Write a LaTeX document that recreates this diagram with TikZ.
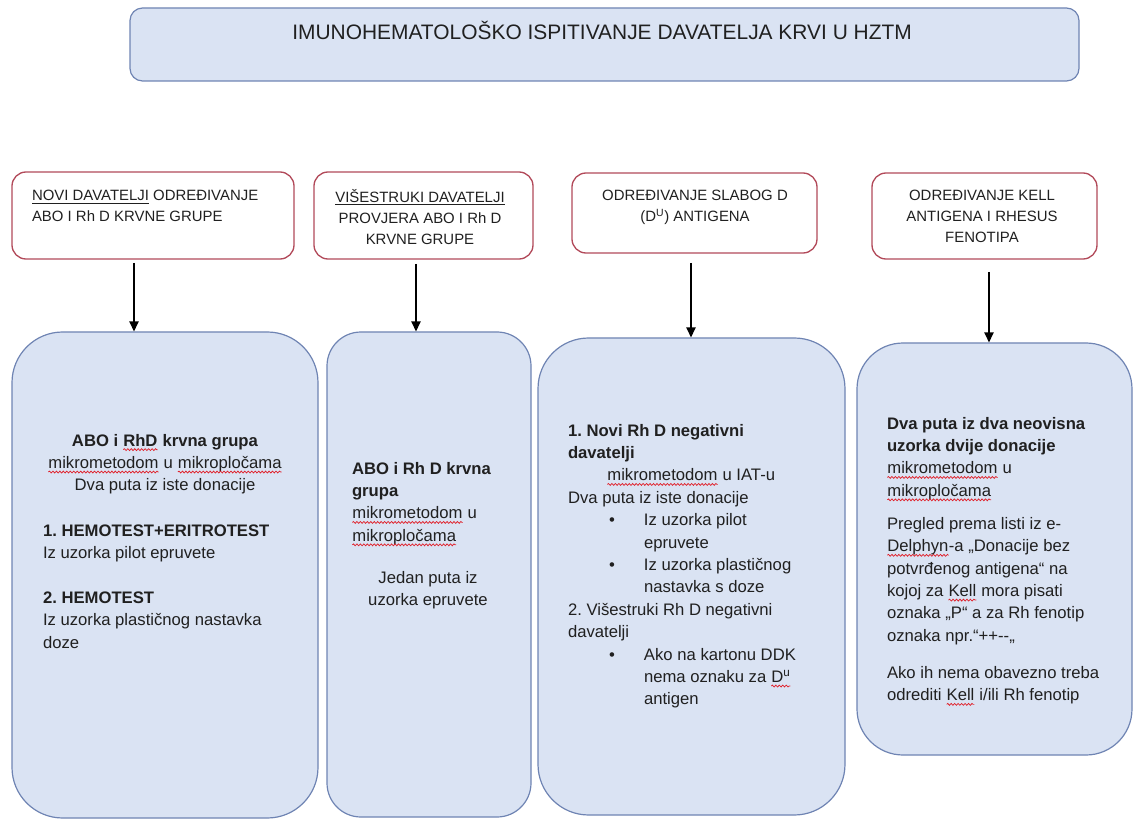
\documentclass[tikz,border=0pt]{standalone}
\usepackage{fontspec}
\setmainfont{Liberation Sans}
\usetikzlibrary{arrows.meta,fit,decorations.pathmorphing}
\definecolor{bfill}{HTML}{DAE3F3}
\definecolor{bline}{HTML}{6F84B3}
\definecolor{rline}{HTML}{B24A5A}
\definecolor{txt}{HTML}{202020}
\definecolor{sqred}{HTML}{E0202A}
\frenchspacing
\newcommand\redwave[1]{\tikz[baseline=(wv.base)]{\node[inner sep=0pt, outer sep=0pt, anchor=base] (wv) {#1};
  \draw[sqred, line width=0.55pt, decorate, decoration={snake, amplitude=0.7pt, segment length=2.6pt}] ([yshift=-2.7pt]wv.base west) -- ([yshift=-2.7pt]wv.base east);}}
\newcommand\myTstrut{\rule{0pt}{9pt}}
\newcommand\myBstrut{\rule{0pt}{10pt}}
\begin{document}
\begin{tikzpicture}[x=0.75pt,y=-0.75pt,
  tbox/.style={draw=rline, line width=1pt, fill=white, rounded corners=10.5pt, inner sep=0pt},
  bbox/.style={draw=bline, line width=0.9pt, fill=bfill, inner sep=0pt},
  ttxt/.style={font=\fontsize{11.2}{15.75}\selectfont, text=txt, inner sep=0pt, outer sep=0pt},
  btxt/.style={font=\fontsize{12.5}{16.8}\selectfont, text=txt, inner sep=0pt, outer sep=0pt},
  arr/.style={-{Triangle[length=7.5pt,width=7pt]}, line width=1pt, draw=black}]
\useasboundingbox (0,0) rectangle (1133,820);

% title
\node[bbox, rounded corners=9.4pt, fit={(130,8) (1079,81)}] (title) {};
\node[font=\fontsize{15.7}{19}\selectfont, text=txt, inner sep=0pt, anchor=base west] (titletext) at (292,40) {IMUNOHEMATOLOŠKO ISPITIVANJE DAVATELJA KRVI U HZTM};

% top boxes
\node[tbox, fit={(12,172) (294,259)}] (t1) {};
\node[tbox, fit={(314,172) (533,259)}] (t2) {};
\node[tbox, fit={(572,173) (817,253)}] (t3) {};
\node[tbox, fit={(872,173) (1097,259)}] (t4) {};

\node[ttxt, align=left, anchor=north west] (t1txt) at (32,189) {\myTstrut\underline{NOVI DAVATELJI} ODREĐIVANJE\\ ABO I Rh D KRVNE GRUPE};
\node[ttxt, align=center, anchor=north] (t2txt) at (420,189) {\myTstrut\underline{VIŠESTRUKI DAVATELJI}\\ PROVJERA ABO I Rh D\\ KRVNE GRUPE};
\node[ttxt, align=center, anchor=north] (t3txt) at (695,189) {\myTstrut ODREĐIVANJE SLABOG D\\ (D\textsuperscript{U}) ANTIGENA};
\node[ttxt, align=center, anchor=north] (t4txt) at (982,189) {\myTstrut ODREĐIVANJE KELL\\ ANTIGENA I RHESUS\\ FENOTIPA};

% bottom boxes
\node[bbox, rounded corners=38pt, fit={(12,332) (318,818)}] (b1) {};
\node[bbox, rounded corners=25.5pt, fit={(327,332) (531,817)}] (b2) {};
\node[bbox, rounded corners=38pt, fit={(538,338) (845,815)}] (b3) {};
\node[bbox, rounded corners=34.5pt, fit={(857,343) (1132,755)}] (b4) {};

% arrows
\coordinate (s1) at (134,263);
\coordinate (s2) at (416,264);
\coordinate (s3) at (691,263);
\coordinate (s4) at (989,272);
\draw[arr] (s1) -- (s1 |- b1.north);
\draw[arr] (s2) -- (s2 |- b2.north);
\draw[arr] (s3) -- (s3 |- b3.north);
\draw[arr] (s4) -- (s4 |- b4.north);

% box 1 text
\node[btxt, align=center, anchor=north] (b1a) at (165,432.7) {\myBstrut\textbf{ABO i \redwave{RhD} krvna grupa}\\ \redwave{mikrometodom} u \redwave{mikropločama}\\ Dva puta iz iste donacije};
\node[btxt, align=left, anchor=north west] (b1b) at (43,522.7) {\myBstrut\textbf{1. HEMOTEST+ERITROTEST}\\ Iz uzorka pilot epruvete\\[17pt] \textbf{2. HEMOTEST}\\ Iz uzorka plastičnog nastavka\\ doze};

% box 2 text
\node[btxt, align=left, anchor=north west] (b2a) at (352,460.7) {\myBstrut\textbf{ABO i Rh D krvna}\\ \textbf{grupa}\\ \redwave{mikrometodom} u\\ \redwave{mikropločama}};
\node[btxt, align=center, anchor=north] (b2b) at (428,569.7) {\myBstrut Jedan puta iz\\ uzorka epruvete};

% box 3 text
\node[btxt, align=left, anchor=north west] (b3a) at (568,422.7) {\myBstrut\textbf{1. Novi Rh D negativni}\\
\textbf{davatelji}\\
\hspace*{29.25pt}\redwave{mikrometodom} u IAT-u\\
Dva puta iz iste donacije\\
\hspace*{30.75pt}\makebox[26.25pt][l]{\textbullet}Iz uzorka pilot\\
\hspace*{57pt}epruvete\\
\hspace*{30.75pt}\makebox[26.25pt][l]{\textbullet}Iz uzorka plastičnog\\
\hspace*{57pt}nastavka s doze\\
2. Višestruki Rh D negativni\\
davatelji\\
\hspace*{30.75pt}\makebox[26.25pt][l]{\textbullet}Ako na kartonu DDK\\
\hspace*{57pt}nema oznaku za \redwave{D\textsuperscript{u}}\\
\hspace*{57pt}antigen};

% box 4 text
\node[btxt, align=left, anchor=north west] (b4a) at (887,415.7) {\myBstrut\textbf{Dva puta iz dva neovisna}\\
\textbf{uzorka dvije donacije}\\
\redwave{mikrometodom} u\\
\redwave{mikropločama}\\[8pt]
Pregled prema listi iz e-\\
\redwave{Delphyn}-a „Donacije bez\\
potvrđenog antigena“ na\\
kojoj za \redwave{Kell} mora pisati\\
oznaka „P“ a za Rh fenotip\\
oznaka npr.“++-{}-„\\[11pt]
Ako ih nema obavezno treba\\
odrediti \redwave{Kell} i/ili Rh fenotip};
\end{tikzpicture}
\end{document}
